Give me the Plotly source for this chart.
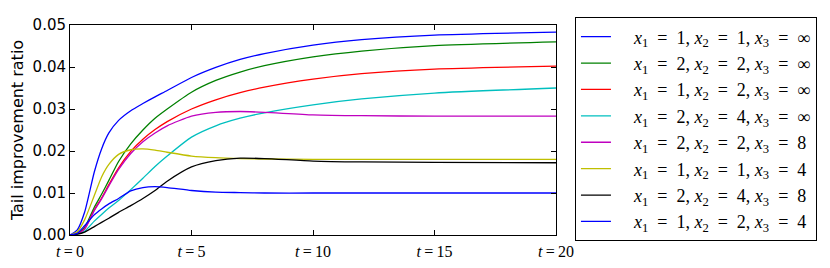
import plotly.graph_objects as go

t = [0, 0.3, 0.6, 1, 1.3, 1.6, 2, 2.5, 3, 3.5, 4, 5, 6, 7, 8, 10, 12, 15, 20]

s_1_1_inf = [0, 0.0012, 0.0054, 0.0150, 0.0205, 0.0243, 0.0273, 0.0296, 0.0313, 0.0329, 0.0344, 0.0375, 0.0399, 0.0418, 0.0432, 0.0452, 0.0465, 0.0476, 0.0483]
s_2_2_inf = [0, 0.0004, 0.0018, 0.0066, 0.0097, 0.0130, 0.0175, 0.0217, 0.0250, 0.0278, 0.0300, 0.0340, 0.0368, 0.0388, 0.0403, 0.0424, 0.0438, 0.0451, 0.0460]
s_1_2_inf = [0, 0.0003, 0.0015, 0.0060, 0.0088, 0.0120, 0.0160, 0.0199, 0.0228, 0.0251, 0.0270, 0.0300, 0.0322, 0.0339, 0.0352, 0.0371, 0.0384, 0.0395, 0.0402]
s_2_4_inf = [0, 0.0002, 0.0009, 0.0033, 0.0049, 0.0064, 0.0082, 0.0108, 0.0135, 0.0163, 0.0188, 0.0233, 0.0260, 0.0278, 0.0291, 0.0310, 0.0324, 0.0338, 0.0350]
s_2_2_8 = [0, 0.0003, 0.0014, 0.0058, 0.0086, 0.0117, 0.0156, 0.0194, 0.0222, 0.0243, 0.0260, 0.0283, 0.0292, 0.0294, 0.0292, 0.0286, 0.0284, 0.0283, 0.0283]
s_1_1_4 = [0, 0.0008, 0.0036, 0.0094, 0.0138, 0.0168, 0.0192, 0.0203, 0.0205, 0.0202, 0.0197, 0.0188, 0.0184, 0.0182, 0.0181, 0.0180, 0.0180, 0.0180, 0.0180]
s_2_4_8 = [0, 0.0002, 0.0007, 0.0020, 0.0030, 0.0040, 0.0054, 0.0070, 0.0087, 0.0106, 0.0128, 0.0162, 0.0177, 0.0183, 0.0182, 0.0176, 0.0174, 0.0173, 0.0172]
s_1_2_4 = [0, 0.0004, 0.0022, 0.0048, 0.0062, 0.0074, 0.0087, 0.0105, 0.0113, 0.0115, 0.0113, 0.0106, 0.0102, 0.0101, 0.0100, 0.0100, 0.0100, 0.0100, 0.0100]

series = [s_1_1_inf, s_2_2_inf, s_1_2_inf, s_2_4_inf, s_2_2_8, s_1_1_4, s_2_4_8, s_1_2_4]
params = [("1", "1", "∞"), ("2", "2", "∞"), ("1", "2", "∞"), ("2", "4", "∞"),
          ("2", "2", "8"), ("1", "1", "4"), ("2", "4", "8"), ("1", "2", "4")]
colors = ["#0000ff", "#008000", "#ff0000", "#00bfbf", "#bf00bf", "#bfbf00", "#000000", "#0000ff"]

x_ticks = [0, 5, 10, 15, 20]
x_ticktext = [f"<i>t</i>\u2009=\u2009{v}" for v in x_ticks]
y_ticks = [0.00, 0.01, 0.02, 0.03, 0.04, 0.05]
y_ticktext = [f"{v:.2f}" for v in y_ticks]

EQ = "\u2002=\u2002"

fig = go.Figure()
for i, (ys, (a, b, c), col) in enumerate(zip(series, params, colors)):
    name = (f"\u2002\u2002<i>x</i><sub>1</sub>{EQ}{a}, <i>x</i><sub>2</sub>{EQ}{b}, "
            f"<i>x</i><sub>3</sub>{EQ}{c}")
    fig.add_trace(go.Scatter(x=t, y=ys, mode="lines", name=name, legendgroup=f"g{i}",
                             line=dict(color=col, width=1.3, shape="spline", smoothing=0.6)))

axis_common = dict(showline=True, linecolor="black", linewidth=1, mirror="allticks",
                   ticks="inside", ticklen=5, tickcolor="black", showgrid=False, zeroline=False)

fig.update_layout(
    width=822, height=260,
    margin=dict(l=62, r=274, t=8, b=30),
    plot_bgcolor="white", paper_bgcolor="white",
    xaxis=dict(range=[0, 20], tickvals=x_ticks, ticktext=x_ticktext, ticklabelstandoff=2,
               tickfont=dict(family="Liberation Serif", size=16, color="black"), **axis_common),
    yaxis=dict(range=[0, 0.05], tickvals=y_ticks, ticktext=y_ticktext,
               tickfont=dict(family="DejaVu Sans", size=15, color="black"),
               title=dict(text="Tail improvement ratio", font=dict(family="DejaVu Sans", size=16, color="black"),
                          standoff=4),
               **axis_common),
    legend=dict(x=1.039, y=1.036, xanchor="left", yanchor="top",
                bordercolor="black", borderwidth=1, bgcolor="white",
                font=dict(family="Liberation Serif", size=18, color="black"),
                itemwidth=30, tracegroupgap=0, maxheight=1000),
    showlegend=True,
)

fig.write_html("out.html")
